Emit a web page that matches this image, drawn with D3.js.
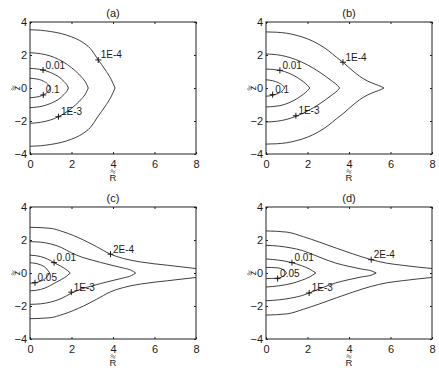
<!DOCTYPE html>
<html>
<head>
<meta charset="utf-8">
<script src="https://cdn.jsdelivr.net/npm/d3@7"></script>
<style>
body { margin: 0; background: #fff; }
text { font-family: "Liberation Sans", Arial, Helvetica, sans-serif; fill: #1a1a1a; }
</style>
</head>
<body>
<div id="chart"></div>
<script>
// ticks shared by the four panels
var xTicks = [0, 2, 4, 6, 8];
var yTicks = [-4, -2, 0, 2, 4];
var panelTitles = ["(a)", "(b)", "(c)", "(d)"];

// contour lines: upper half as [R, z], the lower half mirrors it
// a curve that reaches R = 8 stays open
var a_1e4 = [[0,3.53],[0.5,3.5],[1,3.42],[1.5,3.3],[2,3.1],[2.5,2.8],[2.9,2.4],[3.29,1.7],[3.6,1.15],[3.9,0.55],[4.1,0]];
var a_1e3 = [[0,2.14],[0.5,2.08],[1,1.93],[1.37,1.74],[1.8,1.42],[2.2,1.02],[2.5,0.64],[2.7,0.3],[2.81,0]];
var a_001 = [[0,1.19],[0.63,1.09],[1,0.93],[1.4,0.66],[1.65,0.38],[1.8,0.14],[1.85,0]];
var a_01  = [[0,0.59],[0.3,0.55],[0.64,0.42],[0.85,0.24],[0.98,0]];

var b_1e4 = [[0,3.4],[0.5,3.38],[1,3.32],[1.5,3.18],[2,2.98],[2.5,2.68],[3,2.27],[3.4,1.86],[3.71,1.56],[4.1,1.13],[4.5,0.72],[4.9,0.42],[5.3,0.21],[5.55,0.09],[5.68,0]];
var b_1e3 = [[0,2.06],[0.5,2.02],[1,1.9],[1.44,1.72],[2,1.4],[2.56,0.98],[3.2,0.4],[3.45,0.15],[3.55,0]];
var b_001 = [[0,1.15],[0.67,1.07],[1.1,0.9],[1.5,0.64],[1.8,0.38],[2,0.16],[2.11,0]];
var b_01  = [[0,0.5],[0.32,0.44],[0.6,0.32],[0.8,0.16],[0.9,0]];

var c_2e4 = [[0,2.77],[0.97,2.71],[1.6,2.5],[2.58,2.0],[3.2,1.6],[3.88,1.14],[4.5,0.88],[5.33,0.67],[6.62,0.47],[8,0.27]];
var c_1e3 = [[0,1.9],[0.5,1.87],[1,1.76],[1.5,1.55],[2,1.22],[2.5,0.96],[3,0.78],[3.4,0.64],[4,0.45],[4.5,0.3],[4.9,0.15],[5.09,0]];
var c_001 = [[0,1.08],[0.5,1.0],[0.85,0.84],[1.16,0.63],[1.5,0.4],[1.8,0.16],[1.94,0]];
var c_005 = [[0,0.62],[0.24,0.59],[0.5,0.5],[0.75,0.32],[0.95,0]];

var d_2e4 = [[0,2.55],[1,2.48],[1.8,2.2],[2.56,1.88],[3.4,1.5],[4.16,1.17],[5.07,0.81],[5.8,0.6],[6.56,0.47],[7.3,0.36],[8,0.27]];
var d_1e3 = [[0,1.68],[0.6,1.63],[1.2,1.52],[1.76,1.36],[2.08,1.21],[2.7,0.9],[3.36,0.6],[4,0.4],[4.6,0.24],[5.1,0.12],[5.31,0]];
var d_001 = [[0,0.85],[0.6,0.78],[1.25,0.63],[1.7,0.45],[2.1,0.24],[2.4,0]];
var d_005 = [[0,0.34],[0.56,0.31],[0.8,0.22],[1.0,0]];

// contour labels: [text, R, z] at the "+" marker
var labelsA = [["1E-4",3.29,1.7],["0.01",0.63,1.09],["0.1",0.64,-0.42],["1E-3",1.37,-1.74]];
var labelsB = [["1E-4",3.71,1.56],["0.01",0.67,1.07],["0.1",0.32,-0.4],["1E-3",1.44,-1.68]];
var labelsC = [["2E-4",3.88,1.14],["0.01",1.16,0.63],["0.05",0.24,-0.59],["1E-3",1.99,-1.16]];
var labelsD = [["2E-4",5.07,0.81],["0.01",1.25,0.63],["0.05",0.56,-0.34],["1E-3",2.08,-1.21]];

// layout
var width = 439, height = 368;
var pw = 166, ph = 132;
var origins = [[30, 22], [266, 22], [30, 207], [266, 207]];

var panels = [
  {title: panelTitles[0], lines: [a_1e4, a_1e3, a_001, a_01], labels: labelsA},
  {title: panelTitles[1], lines: [b_1e4, b_1e3, b_001, b_01], labels: labelsB},
  {title: panelTitles[2], lines: [c_2e4, c_1e3, c_001, c_005], labels: labelsC},
  {title: panelTitles[3], lines: [d_2e4, d_1e3, d_001, d_005], labels: labelsD}
];

var svg = d3.select("#chart").append("svg")
  .attr("width", width)
  .attr("height", height);

var x = d3.scaleLinear().domain([0, 8]).range([0, pw]);
var y = d3.scaleLinear().domain([-4, 4]).range([ph, 0]);

// each half is monotone in R, so the two halves meet in a pointed tip
var line = d3.line()
  .x(function(d) { return x(d[0]); })
  .y(function(d) { return y(d[1]); })
  .curve(d3.curveMonotoneX);

// a small double tilde drawn above a letter
var dblTilde = "M-2.4,-0.9c0.8,-1 1.6,-1 2.4,0s1.6,1 2.4,0M-2.4,0.9c0.8,-1 1.6,-1 2.4,0s1.6,1 2.4,0";

function minus(v) { return v < 0 ? "\u2212" + Math.abs(v) : String(v); }

panels.forEach(function(p, i) {
  var g = svg.append("g")
    .attr("transform", "translate(" + origins[i][0] + "," + origins[i][1] + ")");

  g.append("clipPath").attr("id", "clip" + i)
    .append("rect").attr("width", pw).attr("height", ph);

  // axes, ticks pointing inward on all four sides
  g.append("g").attr("transform", "translate(0," + ph + ")")
    .call(d3.axisBottom(x).tickValues(xTicks).tickSize(-2).tickPadding(6).tickFormat(minus))
    .call(function(a) { a.select(".domain").remove(); });
  g.append("g")
    .call(d3.axisLeft(y).tickValues(yTicks).tickSize(-2).tickPadding(3).tickFormat(minus))
    .call(function(a) { a.select(".domain").remove(); });
  g.append("g")
    .call(d3.axisTop(x).tickValues(xTicks).tickSize(-2).tickFormat(""))
    .call(function(a) { a.select(".domain").remove(); });
  g.append("g").attr("transform", "translate(" + pw + ",0)")
    .call(d3.axisRight(y).tickValues(yTicks).tickSize(-2).tickFormat(""))
    .call(function(a) { a.select(".domain").remove(); });

  g.selectAll(".tick line").attr("stroke", "#222");
  g.selectAll(".tick text")
    .style("font-size", "11px")
    .style("font-family", "'Liberation Sans', Arial, sans-serif")
    .attr("fill", "#1a1a1a");

  // contour lines
  var lg = g.append("g").attr("clip-path", "url(#clip" + i + ")");
  p.lines.forEach(function(pts) {
    var lower = pts.map(function(d) { return [d[0], -d[1]]; });
    [pts, lower].forEach(function(s) {
      lg.append("path")
        .attr("d", line(s))
        .attr("fill", "none")
        .attr("stroke", "#2a2a2a")
        .attr("stroke-width", 0.9);
    });
  });

  // "+" markers and labels
  var lab = g.selectAll(".lab").data(p.labels).enter().append("g")
    .attr("class", "lab")
    .attr("transform", function(d) { return "translate(" + x(d[1]) + "," + y(d[2]) + ")"; });
  lab.append("path")
    .attr("d", "M-3,0H3M0,-3V3")
    .attr("stroke", "#1a1a1a")
    .attr("stroke-width", 1);
  lab.append("text")
    .attr("x", 2.5)
    .attr("y", -1.5)
    .style("font-size", "10px")
    .text(function(d) { return d[0]; });

  // frame
  g.append("rect")
    .attr("width", pw).attr("height", ph)
    .attr("fill", "none")
    .attr("stroke", "#222")
    .attr("stroke-width", 1);

  // title
  g.append("text")
    .attr("x", pw / 2).attr("y", -5)
    .attr("text-anchor", "middle")
    .style("font-size", "11px")
    .text(p.title);

  // x label: R with a double tilde above
  g.append("text")
    .attr("x", pw / 2).attr("y", ph + 26.5)
    .attr("text-anchor", "middle")
    .style("font-size", "9.5px")
    .text("R");
  g.append("path")
    .attr("transform", "translate(" + (pw / 2) + "," + (ph + 17.5) + ")")
    .attr("d", dblTilde)
    .attr("fill", "none")
    .attr("stroke", "#1a1a1a")
    .attr("stroke-width", 0.6);

  // y label: z with a double tilde, rotated
  var yl = g.append("g").attr("transform", "translate(-10," + (ph / 2) + ") rotate(-90)");
  yl.append("text")
    .attr("text-anchor", "middle")
    .style("font-size", "8.5px")
    .text("z");
  yl.append("path")
    .attr("transform", "translate(0,-6.5)")
    .attr("d", dblTilde)
    .attr("fill", "none")
    .attr("stroke", "#1a1a1a")
    .attr("stroke-width", 0.6);
});
</script>
</body>
</html>
